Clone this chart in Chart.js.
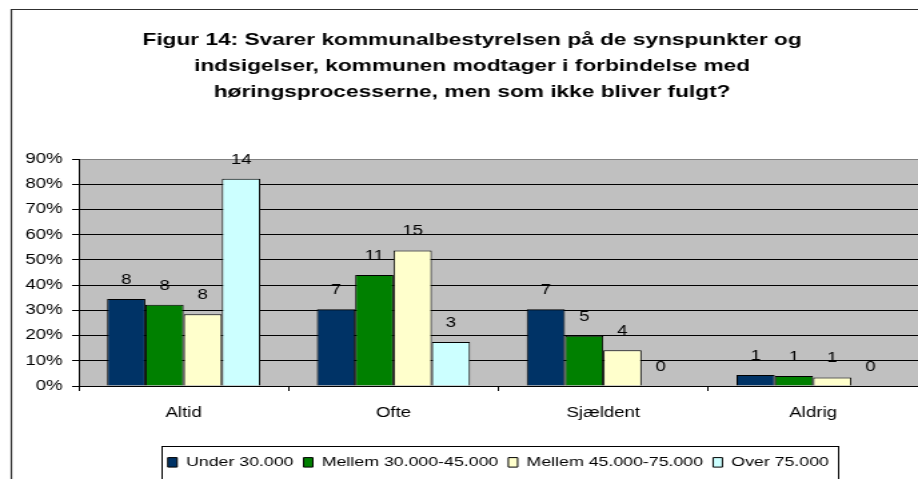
<!DOCTYPE html>
<html>
<head>
<meta charset="utf-8">
<script src="https://cdn.jsdelivr.net/npm/chart.js@4.4.0/dist/chart.umd.min.js"></script>
<style>
  html, body { margin: 0; padding: 0; background: #fff; overflow: hidden; }
  /* the original picture is stretched sideways, so draw narrow and stretch */
  #wrap { width: 688px; height: 479px; transform: scale(1.3343, 1); transform-origin: 0 0; }
</style>
</head>
<body>
<div id="wrap"><canvas id="chart"></canvas></div>
<script>
// data
const categories = ['Altid', 'Ofte', 'Sjældent', 'Aldrig'];
const seriesNames = ['Under 30.000', 'Mellem 30.000-45.000', 'Mellem 45.000-75.000', 'Over 75.000'];
const under30 = [34.5, 30.4, 30.4, 4.4];
const mellem30_45 = [32.2, 44, 19.9, 4];
const mellem45_75 = [28.4, 53.7, 14.2, 3.4];
const over75 = [82.2, 17.4, 0, 0];
// antal svar, shown above the bars
const under30Count = [8, 7, 7, 1];
const mellem30_45Count = [8, 11, 5, 1];
const mellem45_75Count = [8, 15, 4, 1];
const over75Count = [14, 3, 0, 0];
const yTicks = [0, 10, 20, 30, 40, 50, 60, 70, 80, 90];
const titleLines = [
  'Figur 14: Svarer kommunalbestyrelsen på de synspunkter og',
  'indsigelser, kommunen modtager i forbindelse med',
  'høringsprocesserne, men som ikke bliver fulgt?'
];

const FONT = '"Liberation Sans", Arial, sans-serif';
const colors = ['#003366', '#008000', '#FFFFCC', '#CCFFFF'];
const values = [under30, mellem30_45, mellem45_75, over75];
const counts = [under30Count, mellem30_45Count, mellem45_75Count, over75Count];

// grå baggrund bag plotområdet
const plotBackground = {
  id: 'plotBackground',
  beforeDraw(chart) {
    const { ctx, chartArea: a } = chart;
    ctx.save();
    ctx.fillStyle = '#C0C0C0';
    ctx.fillRect(a.left, a.top, a.right - a.left, a.bottom - a.top);
    ctx.restore();
  }
};

// tal over søjlerne
const countLabels = {
  id: 'countLabels',
  afterDatasetsDraw(chart) {
    const ctx = chart.ctx;
    ctx.save();
    ctx.font = '14px ' + FONT;
    ctx.fillStyle = '#000';
    ctx.textAlign = 'center';
    ctx.textBaseline = 'middle';
    chart.data.datasets.forEach((ds, i) => {
      chart.getDatasetMeta(i).data.forEach((bar, j) => {
        ctx.fillText(String(counts[i][j]), bar.x, bar.y - 19);
      });
    });
    ctx.restore();
  }
};

// titel, ramme og ramme om forklaringen
const frame = {
  id: 'frame',
  afterDraw(chart) {
    const ctx = chart.ctx;
    ctx.save();
    ctx.strokeStyle = '#303030';
    ctx.lineWidth = 1.2;
    ctx.beginPath();
    ctx.moveTo(8.5, 490);
    ctx.lineTo(8.5, 9.5);
    ctx.lineTo(700, 9.5);
    ctx.stroke();

    ctx.font = 'bold 17px ' + FONT;
    ctx.fillStyle = '#000';
    ctx.textAlign = 'center';
    ctx.textBaseline = 'alphabetic';
    titleLines.forEach((line, i) => {
      ctx.fillText(line, 353.8, 45 + i * 25.9);
    });

    const boxes = chart.legend.legendHitBoxes;
    if (boxes && boxes.length) {
      const first = boxes[0];
      const last = boxes[boxes.length - 1];
      const left = first.left - 5;
      const right = last.left + last.width + 6.3;
      ctx.strokeStyle = '#000';
      ctx.lineWidth = 1;
      ctx.strokeRect(Math.round(left) + 0.5, 446.5, Math.round(right - left), 60);
    }
    ctx.restore();
  }
};

new Chart(document.getElementById('chart'), {
  type: 'bar',
  data: {
    labels: categories,
    datasets: seriesNames.map((name, i) => ({
      label: name,
      data: values[i],
      backgroundColor: colors[i],
      borderColor: '#000',
      borderWidth: 1,
      barPercentage: 1,
      categoryPercentage: 0.73
    }))
  },
  options: {
    responsive: true,
    maintainAspectRatio: false,
    animation: false,
    devicePixelRatio: 1,
    layout: { padding: { top: 159, left: 0, right: 0, bottom: 0 } },
    plugins: {
      title: { display: false },
      tooltip: { enabled: false },
      legend: {
        position: 'bottom',
        fullSize: false,
        labels: {
          boxWidth: 7,
          boxHeight: 9.5,
          padding: 7.5,
          color: '#000',
          font: { family: FONT, size: 13.3 }
        }
      }
    },
    scales: {
      x: {
        grid: {
          offset: true,
          drawOnChartArea: false,
          tickLength: 5,
          tickColor: '#000'
        },
        border: { color: '#000' },
        ticks: { color: '#000', padding: 14, font: { family: FONT, size: 14 } },
        afterFit(scale) { scale.height = 62.2; }
      },
      y: {
        min: 0,
        max: 90,
        afterBuildTicks(scale) { scale.ticks = yTicks.map(v => ({ value: v })); },
        grid: {
          color: c => (c.tick && c.tick.value === 90 ? '#808080' : '#000'),
          tickLength: 5,
          tickColor: '#000'
        },
        border: { color: '#000' },
        ticks: {
          color: '#000',
          padding: 7,
          font: { family: FONT, size: 14 },
          callback: v => v + '%'
        },
        afterFit(scale) { scale.width = 59; }
      }
    }
  },
  plugins: [plotBackground, countLabels, frame]
});
</script>
</body>
</html>
